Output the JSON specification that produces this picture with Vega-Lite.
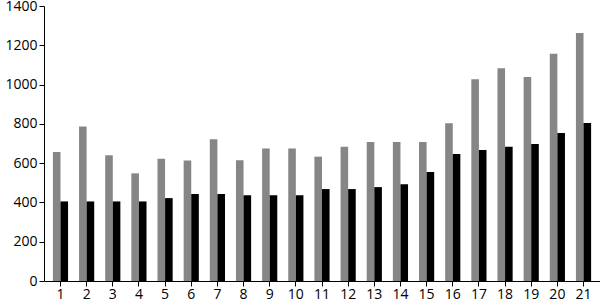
{
  "$schema": "https://vega.github.io/schema/vega-lite/v6.json",
  "width": 556,
  "height": 275,
  "autosize": {"type": "none"},
  "padding": {"left": 44, "top": 6, "right": 0, "bottom": 25},
  "config": {"view": {"stroke": null}, "font": "Open Sans"},
  "data": {"values": [
    {"x": 1, "s": "a", "v": 657}, {"x": 1, "s": "b", "v": 405},
    {"x": 2, "s": "a", "v": 787}, {"x": 2, "s": "b", "v": 405},
    {"x": 3, "s": "a", "v": 640}, {"x": 3, "s": "b", "v": 405},
    {"x": 4, "s": "a", "v": 548}, {"x": 4, "s": "b", "v": 405},
    {"x": 5, "s": "a", "v": 623}, {"x": 5, "s": "b", "v": 422},
    {"x": 6, "s": "a", "v": 613}, {"x": 6, "s": "b", "v": 443},
    {"x": 7, "s": "a", "v": 722}, {"x": 7, "s": "b", "v": 443},
    {"x": 8, "s": "a", "v": 615}, {"x": 8, "s": "b", "v": 437},
    {"x": 9, "s": "a", "v": 675}, {"x": 9, "s": "b", "v": 437},
    {"x": 10, "s": "a", "v": 675}, {"x": 10, "s": "b", "v": 437},
    {"x": 11, "s": "a", "v": 633}, {"x": 11, "s": "b", "v": 468},
    {"x": 12, "s": "a", "v": 683}, {"x": 12, "s": "b", "v": 468},
    {"x": 13, "s": "a", "v": 708}, {"x": 13, "s": "b", "v": 478},
    {"x": 14, "s": "a", "v": 708}, {"x": 14, "s": "b", "v": 493},
    {"x": 15, "s": "a", "v": 708}, {"x": 15, "s": "b", "v": 555},
    {"x": 16, "s": "a", "v": 803}, {"x": 16, "s": "b", "v": 647},
    {"x": 17, "s": "a", "v": 1027}, {"x": 17, "s": "b", "v": 667},
    {"x": 18, "s": "a", "v": 1083}, {"x": 18, "s": "b", "v": 683},
    {"x": 19, "s": "a", "v": 1038}, {"x": 19, "s": "b", "v": 697},
    {"x": 20, "s": "a", "v": 1157}, {"x": 20, "s": "b", "v": 753},
    {"x": 21, "s": "a", "v": 1263}, {"x": 21, "s": "b", "v": 805}
  ]},
  "mark": {"type": "bar"},
  "encoding": {
    "x": {
      "field": "x", "type": "ordinal", "sort": null,
      "scale": {"paddingInner": 0.42, "paddingOuter": 0.34},
      "axis": {"title": null, "labelAngle": 0, "labelFontSize": 14, "labelColor": "#000000", "domainColor": "#000000", "tickColor": "#000000", "tickSize": 5, "labelPadding": 1, "grid": false}
    },
    "xOffset": {"field": "s", "type": "nominal", "scale": {"paddingInner": 0, "paddingOuter": 0}},
    "y": {
      "field": "v", "type": "quantitative",
      "scale": {"domain": [0, 1400], "nice": false},
      "axis": {"title": null, "format": "d", "values": [0, 200, 400, 600, 800, 1000, 1200, 1400], "grid": false, "labelFontSize": 14, "labelColor": "#000000", "domainColor": "#000000", "tickColor": "#000000", "tickSize": 5, "labelPadding": 2}
    },
    "color": {"field": "s", "type": "nominal", "legend": null, "scale": {"domain": ["a", "b"], "range": ["#868686", "#000000"]}}
  }
}
